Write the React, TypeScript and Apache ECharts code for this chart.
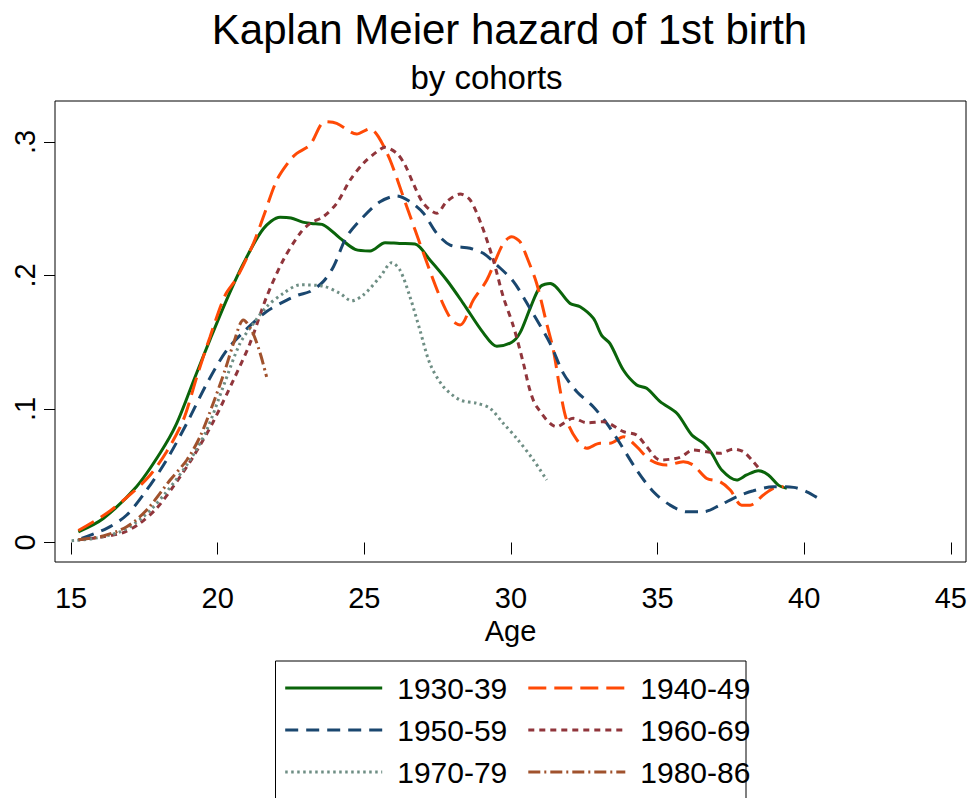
import React, { useEffect, useRef } from "react";
import * as echarts from "echarts";

const FONT = "'Liberation Sans', Arial, Helvetica, sans-serif";

const cohortNames = ["1930-39", "1940-49", "1950-59", "1960-69", "1970-79", "1980-86"];
const xTicks = [15, 20, 25, 30, 35, 40, 45];
const yTicks = [0, 0.1, 0.2, 0.3];
const yTickLabels = ["0", ".1", ".2", ".3"];

// [age, hazard]
const h1930 = [
  [15.25, 0.008], [16.1, 0.018], [17.24, 0.042], [18.04, 0.067], [18.6, 0.089], [19.23, 0.124],
  [19.74, 0.152], [20.31, 0.182], [20.88, 0.209], [21.56, 0.235], [22.13, 0.2436], [22.5, 0.243],
  [22.9, 0.240], [23.2, 0.239], [23.6, 0.238], [24.17, 0.228], [24.69, 0.2196], [25.2, 0.2184],
  [25.71, 0.2246], [26.2, 0.224], [26.73, 0.2236], [27.24, 0.2116], [27.81, 0.1966], [28.38, 0.179],
  [29.06, 0.157], [29.52, 0.147], [30.03, 0.150], [30.31, 0.157], [30.65, 0.175], [31.0, 0.1916],
  [31.34, 0.194], [32.02, 0.179], [32.36, 0.1766], [32.81, 0.168], [33.1, 0.155], [33.38, 0.149],
  [33.84, 0.129], [34.29, 0.118], [34.63, 0.1155], [35.09, 0.1055], [35.66, 0.0968], [36.17, 0.0805],
  [36.57, 0.0743], [36.85, 0.0668], [37.19, 0.0543], [37.7, 0.0468], [38.04, 0.0506], [38.44, 0.0538],
  [38.78, 0.0506], [39.12, 0.043], [39.41, 0.0406],
];
const h1940 = [
  [15.25, 0.009], [16.22, 0.0219], [17.07, 0.0369], [17.7, 0.0506], [18.26, 0.068], [18.83, 0.0918],
  [19.29, 0.124], [19.74, 0.154], [20.25, 0.185], [20.65, 0.198], [21.22, 0.224], [21.56, 0.244],
  [22.02, 0.2715], [22.47, 0.2865], [22.7, 0.2915], [23.15, 0.2978], [23.66, 0.3152], [24.06, 0.314],
  [24.74, 0.306], [25.2, 0.310], [25.48, 0.304], [25.88, 0.2865], [26.45, 0.2515], [27.02, 0.2166],
  [27.58, 0.184], [27.98, 0.1667], [28.27, 0.163], [28.72, 0.1816], [29.18, 0.1966], [29.74, 0.224],
  [30.03, 0.229], [30.31, 0.2253], [30.54, 0.214], [30.88, 0.194], [31.22, 0.164], [31.45, 0.144],
  [31.68, 0.114], [31.9, 0.0918], [32.25, 0.0768], [32.59, 0.0706], [33.04, 0.0743], [33.38, 0.0743],
  [33.84, 0.0793], [34.29, 0.0718], [34.75, 0.0618], [35.32, 0.058], [35.88, 0.0605], [36.22, 0.058],
  [36.68, 0.048], [37.13, 0.0455], [37.48, 0.0393], [37.87, 0.028], [38.16, 0.028], [38.61, 0.0356],
  [38.95, 0.0406], [39.3, 0.0418],
];
const h1950 = [
  [15.36, 0.003], [16.22, 0.0106], [16.9, 0.0206], [17.58, 0.0393], [18.26, 0.0618], [18.95, 0.0893],
  [19.63, 0.119], [20.31, 0.144], [20.99, 0.160], [21.67, 0.173], [22.36, 0.1816], [22.75, 0.1854],
  [23.15, 0.188], [23.6, 0.1954], [23.95, 0.2066], [24.4, 0.229], [24.97, 0.244], [25.54, 0.2553],
  [26.11, 0.2596], [26.56, 0.2553], [27.02, 0.2466], [27.47, 0.2316], [27.93, 0.2228], [28.61, 0.2204],
  [29.06, 0.2166], [29.52, 0.2079], [30.09, 0.1954], [30.65, 0.1754], [31.34, 0.149], [31.79, 0.1267],
  [32.25, 0.113], [32.81, 0.1017], [33.27, 0.0893], [33.72, 0.0743], [34.29, 0.0543], [34.86, 0.038],
  [35.43, 0.028], [36.0, 0.023], [36.57, 0.023], [37.13, 0.028], [37.7, 0.0343], [38.27, 0.0388],
  [38.95, 0.0418], [39.64, 0.0413], [40.09, 0.038], [40.49, 0.033],
];
const h1960 = [
  [15.25, 0.002], [15.99, 0.0039], [16.78, 0.0074], [17.35, 0.0144], [17.92, 0.0256], [18.49, 0.042],
  [19.17, 0.0643], [19.85, 0.0905], [20.54, 0.1217], [21.1, 0.149], [21.67, 0.184], [22.24, 0.2116],
  [22.81, 0.2316], [23.15, 0.239], [23.6, 0.244], [24.06, 0.254], [24.52, 0.2715], [24.97, 0.284],
  [25.43, 0.2927], [25.71, 0.296], [26.11, 0.2915], [26.39, 0.2828], [26.67, 0.269], [27.02, 0.254],
  [27.47, 0.2466], [27.81, 0.2553], [28.27, 0.261], [28.61, 0.2566], [29.0, 0.2378], [29.4, 0.2116],
  [29.74, 0.184], [30.09, 0.1617], [30.43, 0.134], [30.65, 0.114], [30.88, 0.1017], [31.56, 0.0867],
  [32.13, 0.093], [32.59, 0.0897], [33.15, 0.0905], [33.84, 0.083], [34.29, 0.0805], [34.63, 0.0718],
  [35.09, 0.0618], [35.77, 0.0638], [36.22, 0.0693], [36.68, 0.068], [37.13, 0.0668], [37.59, 0.070],
  [37.93, 0.068], [38.27, 0.0605], [38.5, 0.0543],
];
const h1970 = [
  [15.02, 0.0014], [15.76, 0.003], [16.67, 0.008], [17.47, 0.0193], [18.26, 0.038], [19.06, 0.0618],
  [19.63, 0.0843], [20.19, 0.1167], [20.76, 0.149], [21.22, 0.164], [21.67, 0.1766], [22.24, 0.1866],
  [22.81, 0.193], [23.6, 0.192], [24.17, 0.1866], [24.57, 0.181], [24.97, 0.1854], [25.54, 0.199],
  [25.94, 0.2096], [26.22, 0.204], [26.56, 0.184], [26.9, 0.159], [27.24, 0.134], [27.7, 0.1167],
  [28.27, 0.1067], [28.84, 0.1043], [29.29, 0.1005], [29.74, 0.0893], [30.2, 0.078], [30.77, 0.0618],
  [31.22, 0.0468],
];
const h1980 = [
  [15.25, 0.002], [16.1, 0.0049], [16.9, 0.0118], [17.58, 0.0243], [18.38, 0.0468], [18.95, 0.0618],
  [19.4, 0.0793], [19.85, 0.1043], [20.25, 0.129], [20.54, 0.149], [20.88, 0.1667], [21.16, 0.159],
  [21.45, 0.1417], [21.67, 0.124],
];

const cohortData = [h1930, h1940, h1950, h1960, h1970, h1980];
const cohortColors = ["#0a640a", "#ff4a06", "#1a476f", "#90353b", "#6e8e84", "#a0522d"];
const cohortDash: any[] = ["solid", [18, 8], [13, 8], [6, 5], [2.5, 3.5], [12, 4, 2, 4]];

export default function App() {
  const ref = useRef<HTMLDivElement>(null);

  useEffect(() => {
    if (!ref.current) return;
    const chart = echarts.init(ref.current, null, { renderer: "svg" });

    const series = cohortNames.map((name, i) => ({
      name,
      type: "line",
      data: cohortData[i],
      symbol: "none",
      showSymbol: false,
      smooth: 0.3,
      color: cohortColors[i],
      lineStyle: { color: cohortColors[i], width: 3, type: cohortDash[i], cap: "butt" },
      emphasis: { disabled: true },
    }));

    const labelFor = (v: number) => {
      const idx = yTicks.findIndex((t) => Math.abs(t - v) < 1e-9);
      return idx >= 0 ? yTickLabels[idx] : "";
    };

    const legendRowTops = [673, 715, 757];
    const legends = legendRowTops.map((top, r) => ({
      data: cohortNames.slice(r * 2, r * 2 + 2),
      orient: "horizontal",
      left: 283.7,
      top,
      padding: 0,
      itemGap: 19.5,
      itemWidth: 97,
      itemHeight: 22,
      selectedMode: false,
      itemStyle: { opacity: 0, color: "transparent", borderWidth: 0 },
      lineStyle: { width: 3 },
      textStyle: { fontSize: 30, color: "#000", fontFamily: FONT, padding: [0, 0, 0, 10] },
    }));

    chart.setOption({
      animation: false,
      backgroundColor: "#ffffff",
      textStyle: { fontFamily: FONT },
      grid: {
        left: 55,
        top: 101,
        width: 911,
        height: 461,
        show: true,
        borderColor: "#000",
        borderWidth: 1,
        backgroundColor: "transparent",
        containLabel: false,
      },
      xAxis: {
        type: "value",
        min: 14.454,
        max: 45.52,
        axisLine: { show: false },
        splitLine: { show: false },
        axisTick: { show: true, customValues: xTicks, length: 12, lineStyle: { color: "#000", width: 1 } },
        axisLabel: {
          customValues: xTicks,
          margin: 21,
          fontSize: 29,
          color: "#000",
          fontFamily: FONT,
        },
        name: "Age",
        nameLocation: "middle",
        nameGap: 49,
        nameTextStyle: { fontSize: 29, color: "#000", fontFamily: FONT },
      },
      yAxis: {
        type: "value",
        min: -0.0146,
        max: 0.3307,
        axisLine: { show: false },
        splitLine: { show: false },
        axisTick: { show: true, customValues: yTicks, length: 11, lineStyle: { color: "#000", width: 1 } },
        axisLabel: {
          customValues: yTicks,
          rotate: 90,
          margin: 16,
          fontSize: 29,
          color: "#000",
          fontFamily: FONT,
          formatter: (v: number) => labelFor(v),
        },
      },
      legend: legends,
      graphic: [
        {
          type: "text",
          x: 509.5,
          y: 29.5,
          style: {
            text: "Kaplan Meier hazard of 1st birth",
            fontSize: 42,
            fontFamily: FONT,
            fill: "#000",
            align: "center",
            verticalAlign: "middle",
          },
        },
        {
          type: "text",
          x: 486.5,
          y: 77,
          style: {
            text: "by cohorts",
            fontSize: 33,
            fontFamily: FONT,
            fill: "#000",
            align: "center",
            verticalAlign: "middle",
          },
        },
        {
          type: "rect",
          shape: { x: 275.5, y: 661, width: 470.5, height: 200 },
          style: { fill: "none", stroke: "#000", lineWidth: 1 },
          z: 0,
        },
      ],
      series,
    });

    return () => chart.dispose();
  }, []);

  return (
    <div
      ref={ref}
      style={{ position: "fixed", left: 0, top: 0, width: 970, height: 798, background: "#fff" }}
    />
  );
}
